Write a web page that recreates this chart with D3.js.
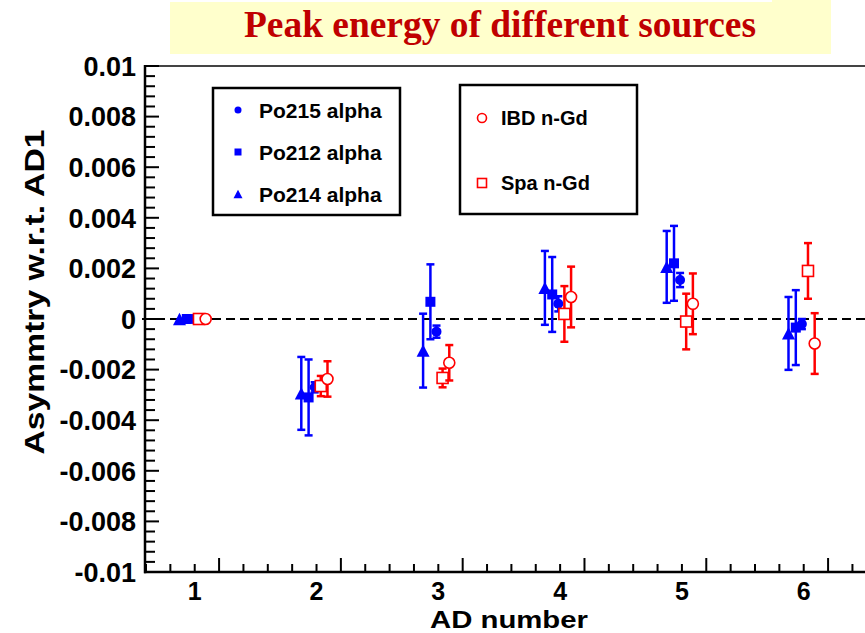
<!DOCTYPE html>
<html><head><meta charset="utf-8">
<script src="https://cdn.jsdelivr.net/npm/d3@7"></script>
<style>
html,body{margin:0;padding:0;background:#fff;}
svg{display:block;}
text{font-family:"Liberation Sans",Arial,Helvetica,sans-serif;font-weight:bold;}
</style></head>
<body>
<script>
// ---- data ----
const adNumbers = [1, 2, 3, 4, 5, 6];
const po215 = [0, -0.0027, -0.0005, 0.0006, 0.00154, -0.0002];
const po215Err = [0, 0.0002, 0.00024, 0.0003, 0.00028, 0.0002];
const po212 = [0, -0.0031, 0.00068, 0.00097, 0.0022, -0.00034];
const po212Err = [0, 0.0015, 0.00148, 0.00148, 0.00148, 0.00148];
const po214 = [0, -0.00294, -0.00125, 0.00123, 0.00206, -0.00057];
const po214Err = [0, 0.00144, 0.00146, 0.00146, 0.00142, 0.00144];
const ibd = [0, -0.00237, -0.00173, 0.00087, 0.0006, -0.00097];
const ibdErr = [0, 0.0007, 0.0007, 0.0012, 0.0012, 0.0012];
const spa = [0, -0.00265, -0.00233, 0.0002, -0.0001, 0.0019];
const spaErr = [0, 0.0004, 0.00037, 0.0011, 0.0011, 0.0011];
const yTickValues = [-0.01, -0.008, -0.006, -0.004, -0.002, 0, 0.002, 0.004, 0.006, 0.008, 0.01];
const yTickLabels = ["-0.01", "-0.008", "-0.006", "-0.004", "-0.002", "0", "0.002", "0.004", "0.006", "0.008", "0.01"];
const xTickLabels = ["1", "2", "3", "4", "5", "6"];
const titleText = "Peak energy of different sources";
const xTitle = "AD number";
const yTitle = "Asymmtry w.r.t. AD1";

// ---- layout / style ----
const W = 865, H = 633;
const BLUE = "#0000ff", RED = "#ff0000";
const series = [
  {name: "Po214 alpha", vals: po214, errs: po214Err, shape: "triangle", color: BLUE, fill: true, dx: -0.125},
  {name: "Po212 alpha", vals: po212, errs: po212Err, shape: "square", color: BLUE, fill: true, dx: -0.065},
  {name: "Po215 alpha", vals: po215, errs: po215Err, shape: "circle", color: BLUE, fill: true, dx: -0.015},
  {name: "Spa n-Gd", vals: spa, errs: spaErr, shape: "square", color: RED, fill: false, dx: 0.035},
  {name: "IBD n-Gd", vals: ibd, errs: ibdErr, shape: "circle", color: RED, fill: false, dx: 0.09}
];

const svg = d3.select("body").append("svg").attr("width", W).attr("height", H);

const x = d3.scaleLinear().domain([0.6, 6.6]).range([146, 146 + 6 * 121.8]);
const y = d3.scaleLinear().domain([-0.01, 0.01]).range([572, 66]);

// title box
svg.append("rect").attr("x", 170).attr("y", 2).attr("width", 661).attr("height", 52).attr("fill", "#ffffcc");
svg.append("rect").attr("x", 772).attr("y", 0).attr("width", 59).attr("height", 4).attr("fill", "#ffffcc");
svg.append("text").attr("x", 500).attr("y", 37).attr("text-anchor", "middle")
  .style("font-family", "'Liberation Serif','Times New Roman',serif").style("font-weight", "bold")
  .attr("font-size", 37).attr("fill", "#c00000")
  .attr("textLength", 512).attr("lengthAdjust", "spacingAndGlyphs")
  .text(titleText);

// frame top
svg.append("line").attr("x1", 145).attr("x2", W).attr("y1", 66).attr("y2", 66)
  .attr("stroke", "#444").attr("stroke-width", 2);

// zero dashed line
svg.append("line").attr("x1", 142).attr("x2", W).attr("y1", y(0)).attr("y2", y(0))
  .attr("stroke", "#000").attr("stroke-width", 2.2).attr("stroke-dasharray", "9,5");

// axes
const axisG = svg.append("g");
axisG.append("line").attr("x1", 145).attr("x2", 145).attr("y1", y(0.01) - 1).attr("y2", y(-0.01) + 1.2)
  .attr("stroke", "#000").attr("stroke-width", 2.5);
axisG.append("line").attr("x1", 144).attr("x2", W).attr("y1", 572).attr("y2", 572)
  .attr("stroke", "#000").attr("stroke-width", 2.5);

const yMinor = d3.range(0, 51).map(i => -0.01 + i * 0.0004);
axisG.selectAll(".ytick").data(yMinor).join("line")
  .attr("x1", 145).attr("x2", (d, i) => 145 + (i % 5 === 0 ? 14 : 10))
  .attr("y1", d => y(d)).attr("y2", d => y(d))
  .attr("stroke", "#000").attr("stroke-width", 2);
axisG.selectAll(".ylab").data(yTickValues).join("text")
  .attr("x", 136).attr("y", d => y(d)).attr("dy", "0.36em")
  .attr("text-anchor", "end").attr("font-size", 27).attr("fill", "#000")
  .text((d, i) => yTickLabels[i]);

const xMinor = d3.range(0, 32).map(i => 0.6 + i * 0.2);
axisG.selectAll(".xtick").data(xMinor).join("line")
  .attr("x1", d => x(d)).attr("x2", d => x(d))
  .attr("y1", 572).attr("y2", (d, i) => 572 - ((i + 2) % 5 === 0 ? 14 : 8))
  .attr("stroke", "#000").attr("stroke-width", 2);
axisG.selectAll(".xlab").data(adNumbers).join("text")
  .attr("x", d => x(d)).attr("y", 600)
  .attr("text-anchor", "middle").attr("font-size", 25).attr("fill", "#000")
  .text((d, i) => xTickLabels[i]);

svg.append("text").attr("x", 509).attr("y", 628).attr("text-anchor", "middle")
  .attr("font-size", 24).attr("fill", "#000")
  .attr("textLength", 158).attr("lengthAdjust", "spacingAndGlyphs").text(xTitle);
svg.append("text").attr("transform", "translate(44,292) rotate(-90)")
  .attr("text-anchor", "middle").attr("font-size", 28).attr("fill", "#000")
  .attr("textLength", 325).attr("lengthAdjust", "spacingAndGlyphs")
  .text(yTitle);

function marker(g, shape, cx, cy, size, color, filled) {
  let el;
  if (shape === "circle") {
    el = g.append("circle").attr("cx", cx).attr("cy", cy).attr("r", size / 2);
  } else if (shape === "square") {
    el = g.append("rect").attr("x", cx - size / 2).attr("y", cy - size / 2).attr("width", size).attr("height", size);
  } else {
    const h = size * 0.95;
    el = g.append("path").attr("d", `M${cx - size / 2},${cy + h / 2}L${cx + size / 2},${cy + h / 2}L${cx},${cy - h / 2}Z`);
  }
  if (filled) el.attr("fill", color).attr("stroke", "none");
  else el.attr("fill", "#fff").attr("stroke", color).attr("stroke-width", 1.6);
  return el;
}

const plot = svg.append("g");
series.forEach(s => {
  const g = plot.append("g");
  adNumbers.forEach((ad, i) => {
    const cx = x(ad + s.dx);
    const v = s.vals[i], e = s.errs[i];
    if (e > 0) {
      const y1 = y(v + e), y2 = y(v - e);
      g.append("line").attr("x1", cx).attr("x2", cx).attr("y1", y1).attr("y2", y2)
        .attr("stroke", s.color).attr("stroke-width", 2.5);
      [y1, y2].forEach(yy => g.append("line").attr("x1", cx - 4).attr("x2", cx + 4)
        .attr("y1", yy).attr("y2", yy).attr("stroke", s.color).attr("stroke-width", 2.5));
    }
    const size = s.shape === "circle" ? (s.fill ? 10 : 11) : s.shape === "square" ? (s.fill ? 10 : 11) : 13;
    marker(g, s.shape, cx, y(v), size, s.color, s.fill);
  });
});

// legend 1
const leg1 = svg.append("g");
leg1.append("rect").attr("x", 213).attr("y", 88).attr("width", 187).attr("height", 127)
  .attr("fill", "#fff").attr("stroke", "#000").attr("stroke-width", 2.5);
const leg1Items = [series[2], series[1], series[0]];
const leg1Y = [110, 152, 194];
leg1Items.forEach((s, i) => {
  marker(leg1, s.shape, 238, leg1Y[i], s.shape === "triangle" ? 9 : 7, s.color, true);
  leg1.append("text").attr("x", 259).attr("y", leg1Y[i]).attr("dy", "0.36em")
    .attr("font-size", 21).attr("fill", "#000").text(s.name);
});
// legend 2
const leg2 = svg.append("g");
leg2.append("rect").attr("x", 460).attr("y", 85).attr("width", 177).attr("height", 129)
  .attr("fill", "#fff").attr("stroke", "#000").attr("stroke-width", 2.5);
const leg2Items = [series[4], series[3]];
const leg2Y = [118, 183];
leg2Items.forEach((s, i) => {
  marker(leg2, s.shape, 482, leg2Y[i], 9, s.color, false);
  leg2.append("text").attr("x", 501).attr("y", leg2Y[i]).attr("dy", "0.36em")
    .attr("font-size", 20).attr("fill", "#000").text(s.name);
});
</script>
</body></html>
